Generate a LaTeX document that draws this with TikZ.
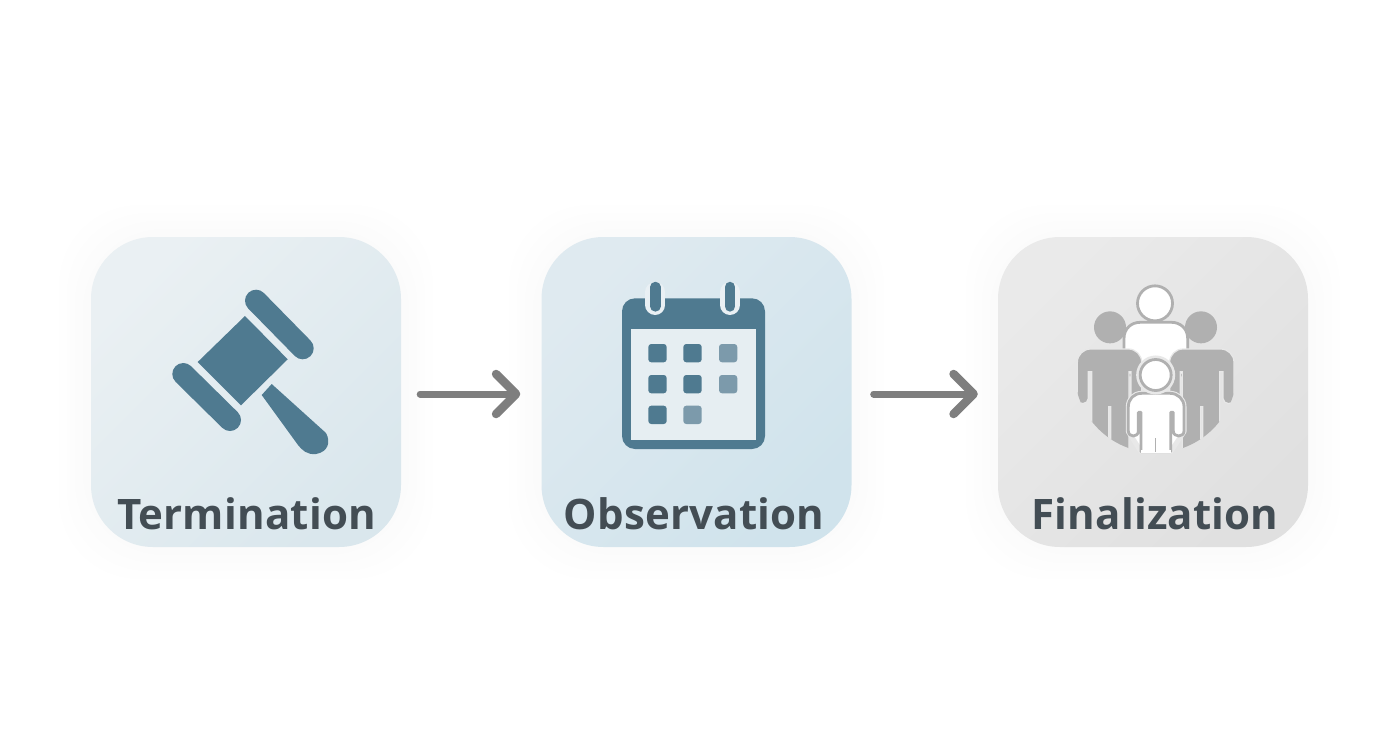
\documentclass[tikz,border=0pt]{standalone}
\usepackage{fontspec}
\setmainfont{Open Sans}
\usetikzlibrary{arrows.meta,calc}
\definecolor{slate}{HTML}{4F7A90}
\definecolor{slatelight}{HTML}{7C9AAB}
\definecolor{labelink}{HTML}{434D54}
\definecolor{arrowgray}{HTML}{7E7E7E}
\definecolor{persongray}{HTML}{B0B0B0}
\definecolor{haloone}{HTML}{E9F0F4}
\definecolor{calface}{HTML}{E6EEF2}
\definecolor{halothree}{HTML}{E8E8E8}
\definecolor{aTop}{HTML}{EAF0F3}
\definecolor{aBot}{HTML}{DAE7ED}
\definecolor{bTop}{HTML}{DFEAF0}
\definecolor{bBot}{HTML}{D0E3EC}
\definecolor{cTop}{HTML}{EAEAEA}
\definecolor{cBot}{HTML}{E0E0E0}
\tikzset{
  card/.style={inner sep=0pt,minimum width=310pt,minimum height=310pt,rounded corners=62pt},
  glow/.style={fill=#1,fill opacity=.005,rounded corners=80pt},
  cardlabel/.style={inner sep=0pt,anchor=base,text=labelink,font=\fontsize{42}{50}\selectfont\bfseries\addfontfeatures{LetterSpace=0.4}},
  flow/.style={draw=arrowgray,line width=7pt,line cap=round,-{Straight Barb[length=20pt,width=40pt,round,line width=8.5pt]}},
  gavel/.style={fill=slate},
  gavelbar/.style={draw=slate,line width=22pt,line cap=round},
  calcell/.style={fill=slate,rounded corners=3pt},
  calcellb/.style={fill=slatelight,rounded corners=3pt},
  ghost/.style={fill=white,draw=persongray,line width=2.8pt,line join=round},
  solidperson/.style={fill=persongray,draw=halothree,line width=1.2pt},
}
\newcommand{\sideperson}{%
  (85,370) .. controls (85,379) and (77,386) .. (68,386) .. controls (59,386) and (52,379) .. (52,370)
  -- (52,262) .. controls (52,240) and (70,222) .. (92,222) -- (205,222)
  .. controls (227,222) and (245,240) .. (245,262) -- (245,370)
  .. controls (245,379) and (237,386) .. (229,386) .. controls (220,386) and (213,379) .. (213,370)
  -- (213,290) -- (207,290) -- (207,580) -- (152,580) -- (152,395) -- (146,395) -- (146,580) -- (95,580) -- (95,290) -- (85,290) -- cycle}
\begin{document}
\begin{tikzpicture}[x=1pt,y=-1pt]
\useasboundingbox (0,0) rectangle (1392,752);
\fill[white] (0,0) rectangle (1392,752);
\foreach \g in {8,16,24,32}{
  \fill[glow=slate!60] (91-\g,237-\g) rectangle (401+\g,547+\g);
  \fill[glow=slate!60] (541-\g,237-\g) rectangle (852+\g,547+\g);
  \fill[glow=gray] (998-\g,237-\g) rectangle (1308+\g,547+\g);
}
% cards
\node[card,top color=aTop,bottom color=aBot,shading angle=45] (t) at (246,392) {};
\node[card,top color=bTop,bottom color=bBot,shading angle=45] (o) at (696.5,392) {};
\node[card,top color=cTop,bottom color=cBot,shading angle=45] (f) at (1153,392) {};
% labels
\node[cardlabel] (tl) at (246.5,529) {Termination};
\node[cardlabel] (ol) at (694,529) {Observation};
\node[cardlabel] (fl) at (1155,529) {Finalization};
% arrows
\draw[flow] ($(t.east)+(19,2)$) -- ($(o.west)+(-21,2)$);
\draw[flow] ($(o.east)+(22,2)$) -- ($(f.west)+(-20,2)$);
% gavel
\draw[gavelbar] (256,300.7) -- (302.7,348.3);
\draw[gavelbar] (183.3,374) -- (230,420);
\fill[gavel] (245,316) -- (287.7,359.3) -- (241,405.3) -- (197.7,362) -- cycle;
\fill[gavel] (271.7,384) -- (326,433) .. controls (331,442) and (328,452) .. (316,454)
  .. controls (307,455) and (302,450) .. (298,445) -- (261.7,395) -- cycle;
% calendar
\fill[slate,rounded corners=13pt] (622,298.3) rectangle (765,449);
\fill[calface] (630.7,329.3) rectangle (756,440);
\foreach \cx in {655.3,730}{
  \draw[haloone,line width=20pt,line cap=round] (\cx,292) -- (\cx,305);
  \draw[slate,line width=10.5pt,line cap=round] (\cx,287) -- (\cx,306.4);
}
\fill[calcell] (648.3,344) rectangle (666.7,362.3);
\fill[calcell] (683.3,344) rectangle (701.7,362.3);
\fill[calcellb] (719,344) rectangle (737.3,362.3);
\fill[calcell] (648.3,375) rectangle (666.7,393.3);
\fill[calcell] (683.3,375) rectangle (701.7,393.3);
\fill[calcellb] (719,375) rectangle (737.3,393.3);
\fill[calcell] (648.3,405.7) rectangle (666.7,424);
\fill[calcellb] (683.3,405.7) rectangle (701.7,424);
% people
\begin{scope}[shift={(1060,275)},x=.33333pt,y=-.33333pt]
  \draw[ghost] (285,85) circle (17.5pt);
  \draw[ghost] (192,300) -- (192,190) .. controls (192,160) and (215,142) .. (240,142)
     -- (335,142) .. controls (360,142) and (383,160) .. (383,190) -- (383,300) -- cycle;
  \fill[persongray] (150,157) circle (16pt);
  \fill[persongray] (423,157) circle (16pt);
  \begin{scope}
    \clip (287,290) circle (81pt);
    \fill[solidperson] \sideperson;
    \begin{scope}[shift={(574,0)},xscale=-1]
      \fill[solidperson] \sideperson;
    \end{scope}
  \end{scope}
  \draw[ghost,draw=halothree,line width=5pt]
     (205,470) -- (205,395) .. controls (205,372) and (222,355) .. (245,355) -- (330,355)
     .. controls (353,355) and (372,372) .. (372,395) -- (372,470) -- (332,530) -- (243,530) -- cycle;
  \draw[ghost] (205,468) -- (205,395) .. controls (205,372) and (222,355) .. (245,355) -- (330,355)
     .. controls (353,355) and (372,372) .. (372,395) -- (372,468)
     .. controls (372,488) and (340,488) .. (340,468) -- (340,412) -- (332,412) -- (332,530) -- (243,530)
     -- (243,412) -- (235,412) -- (235,468) .. controls (235,488) and (205,488) .. (205,468) -- cycle;
  \draw[white,line width=3pt] (243,530) -- (332,530);
  \draw[persongray,line width=1pt] (287,490) -- (287,530);
  \draw[draw=halothree,line width=5pt] (287,300) circle (17pt);
  \draw[ghost] (287,300) circle (15.5pt);
\end{scope}
\end{tikzpicture}
\end{document}
